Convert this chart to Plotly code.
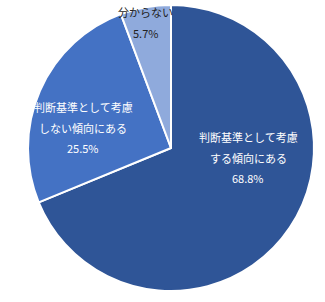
import plotly.graph_objects as go

labels = ["判断基準として考慮する傾向にある", "判断基準として考慮しない傾向にある", "分からない"]
label_lines = [["判断基準として考慮", "する傾向にある"], ["判断基準として考慮", "しない傾向にある"], ["分からない"]]
values = [68.8, 25.5, 5.7]
colors = ["#2F5597", "#4472C4", "#8FAADC"]
text_colors = ["white", "white", "#222222"]
# label anchor positions in pixels (center x, first-line y)
label_pos = [(248, 137), (83, 107), (145, 12)]

W, H = 325, 302
fig = go.Figure(go.Pie(
    labels=labels, values=values, sort=False, direction="clockwise", rotation=0,
    marker=dict(colors=colors, line=dict(color="white", width=2)),
    textinfo="none", hoverinfo="label+percent", showlegend=False,
    domain=dict(x=[28/W, 314/W], y=[(H-291)/H, (H-5)/H]),
))

anns = []
for lines, v, tc, (px, py) in zip(label_lines, values, text_colors, label_pos):
    allt = lines + [f"{v:.1f}%"]
    for i, t in enumerate(allt):
        anns.append(dict(x=px/W, y=1-(py+i*20.5)/H, xref="paper", yref="paper",
                         text=t, showarrow=False, xanchor="center", yanchor="middle",
                         font=dict(size=11, color=tc, family="Noto Sans CJK JP")))

fig.update_layout(width=W, height=H, margin=dict(l=0, r=0, t=0, b=0),
                  paper_bgcolor="white", plot_bgcolor="white", annotations=anns,
                  font=dict(family="Noto Sans CJK JP"))
fig.write_html("out.html")
